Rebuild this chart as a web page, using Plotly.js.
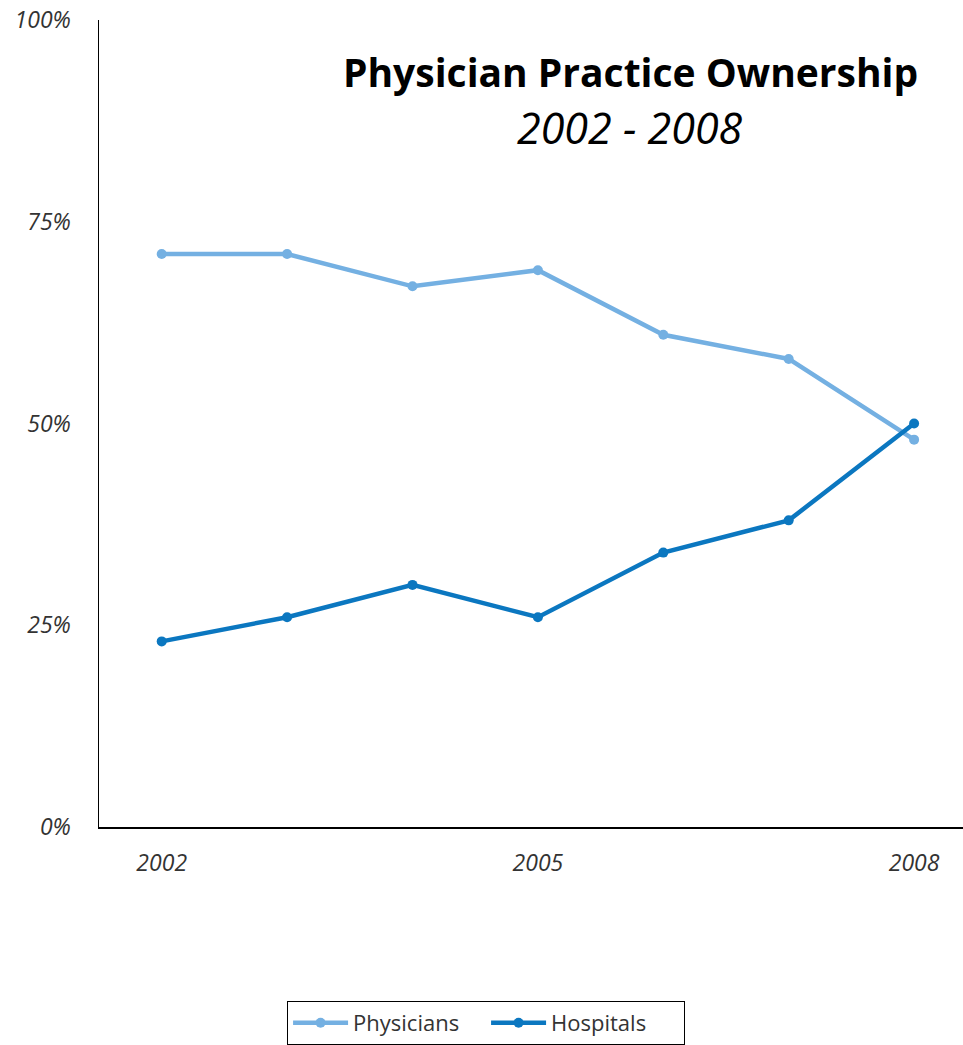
<!DOCTYPE html>
<html>
<head>
<meta charset="utf-8">
<script src="https://cdn.plot.ly/plotly-3.0.1.min.js"></script>
<style>html,body{margin:0;padding:0;background:#fff;overflow:hidden}</style>
</head>
<body>
<div id="chart" style="width:963px;height:1045px"></div>
<script>
const years = [2002, 2003, 2004, 2005, 2006, 2007, 2008];
const physicians = [71, 71, 67, 69, 61, 58, 48];
const hospitals = [23, 26, 30, 26, 34, 38, 50];
const xTickVals = [2002, 2005, 2008];
const xTickText = ['2002', '2005', '2008'];
const yTickVals = [0, 25, 50, 75, 100];
const yTickText = ['0%', '25%', '50%', '75%', '100%'];

const font = 'Open Sans, Noto Sans, sans-serif';

const traces = [
  {
    x: years, y: physicians, name: 'Physicians', type: 'scatter', mode: 'lines+markers',
    line: {color: '#74B0E2', width: 4.5}, marker: {color: '#74B0E2', size: 10}
  },
  {
    x: years, y: hospitals, name: 'Hospitals', type: 'scatter', mode: 'lines+markers',
    line: {color: '#0B77C0', width: 4.5}, marker: {color: '#0B77C0', size: 10}
  }
];

const layout = {
  width: 963, height: 1045,
  margin: {l: 99, r: 0, t: 20, b: 217},
  paper_bgcolor: '#fff', plot_bgcolor: '#fff',
  font: {family: font, color: '#333', size: 22},
  showlegend: true,
  legend: {
    orientation: 'h', x: 0.448, xanchor: 'center', y: -0.2153, yanchor: 'top',
    bordercolor: '#000', borderwidth: 1, font: {size: 22, color: '#333', family: font},
    itemwidth: 55, traceorder: 'normal', entrywidth: 128, entrywidthmode: 'pixels'
  },
  xaxis: {
    range: [2001.5, 2008.39], tickvals: xTickVals, ticktext: xTickText,
    showgrid: false, zeroline: false, showline: true, linecolor: '#000', linewidth: 1.5,
    ticks: '', tickfont: {family: font, size: 23, color: '#333', style: 'italic'},
    ticklabelstandoff: 15
  },
  yaxis: {
    range: [0, 100], tickvals: yTickVals, ticktext: yTickText,
    showgrid: false, zeroline: false, showline: true, linecolor: '#000', linewidth: 1.5,
    ticks: '', tickfont: {family: font, size: 23, color: '#333', style: 'italic'},
    ticklabelstandoff: 22
  },
  annotations: [
    {
      xref: 'paper', yref: 'paper', x: 0.6146, y: 0.936, xanchor: 'center', yanchor: 'middle',
      text: '<b>Physician Practice Ownership</b>', showarrow: false,
      font: {family: font, size: 39, color: '#000'}
    },
    {
      xref: 'paper', yref: 'paper', x: 0.6146, y: 0.867, xanchor: 'center', yanchor: 'middle',
      text: '<i>2002 - 2008</i>', showarrow: false,
      font: {family: font, size: 43, color: '#000'}
    }
  ]
};

Plotly.newPlot('chart', traces, layout, {displayModeBar: false, staticPlot: true});
</script>
</body>
</html>
